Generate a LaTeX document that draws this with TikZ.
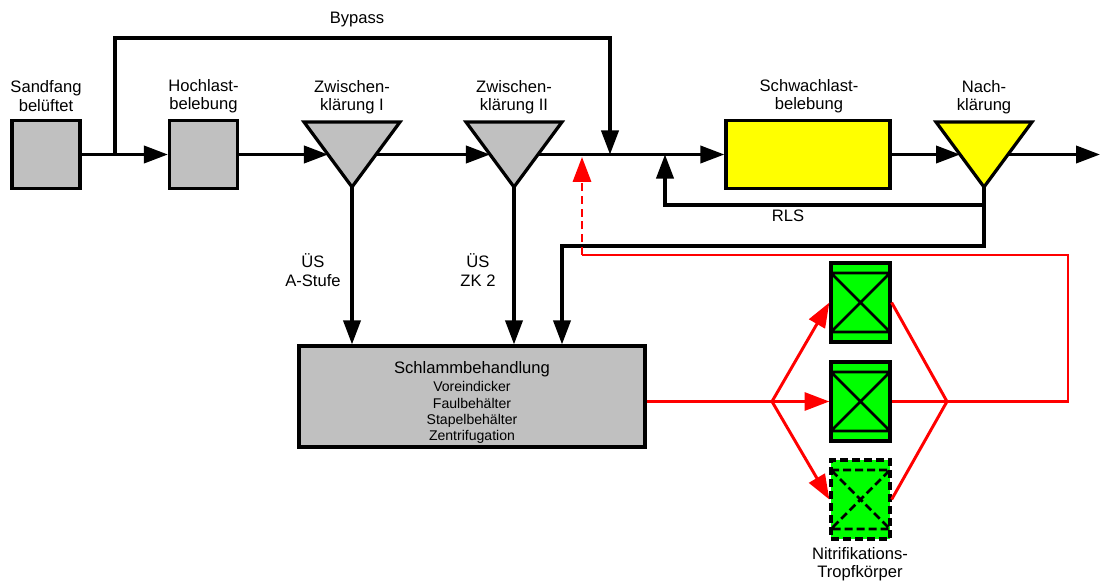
\documentclass[tikz,border=0pt]{standalone}
\usepackage{fontspec}
\setmainfont{Liberation Sans}
\usepackage{tikz}
\usetikzlibrary{arrows.meta, positioning, calc}
\definecolor{beckengrau}{RGB}{192,192,192}
\definecolor{belebgelb}{RGB}{255,255,0}
\definecolor{tkgruen}{RGB}{0,255,0}
\definecolor{nitrorot}{RGB}{255,0,0}
\tikzset{
  lbl/.style={font=\fontsize{11.8}{13}\selectfont,align=center,inner sep=0pt},
  procbox/.style={rectangle,draw,line width=2.3pt,fill=beckengrau,minimum width=1.7cm,minimum height=1.7cm,inner sep=0pt},
  pipe/.style={line width=2.3pt},
  flow/.style={line width=2.3pt,-{Triangle[length=0.6cm,width=0.43cm]}},
  recirc/.style={line width=2.1pt,nitrorot},
  recircarrow/.style={recirc,-{Triangle[length=0.62cm,width=0.45cm]}},
  tkinner/.style={line width=2pt},
  tkbox/.style={rectangle,draw,line width=2.3pt,fill=tkgruen,minimum width=1.475cm,minimum height=1.975cm,inner sep=0pt,
    path picture={
      \draw[tkinner] ([yshift=-0.25cm]path picture bounding box.north west) -- ([yshift=-0.25cm]path picture bounding box.north east)
        -- ([yshift=0.25cm]path picture bounding box.south west) -- ([yshift=0.25cm]path picture bounding box.south east) -- cycle;
    }},
  tkdashed/.style={tkbox,dash pattern=on 0.2cm off 0.1cm,tkinner/.append style={dash pattern=on 0.2cm off 0.1cm}},
  becken/.pic={
    \filldraw[line width=2.3pt,pic actions] (-48,-32.5) -- (48,-32.5) -- (0,32.5) -- cycle;
    \coordinate (-in) at (-24,0);
    \coordinate (-out) at (24,0);
    \coordinate (-tip) at (0,32.5);
  },
}

\begin{document}
\begin{tikzpicture}[x=0.025cm,y=-0.025cm]
  \useasboundingbox (0,0) rectangle (1101,585);
  % Becken der Wasserstrasse
  \node[procbox] (sand) at (46,154.5) {};
  \node[procbox] (hoch) at (203.5,154.5) {};
  \pic[fill=beckengrau] (zk1) at (352,154.5) {becken};
  \pic[fill=beckengrau] (zk2) at (514,154.5) {becken};
  \node[procbox,fill=belebgelb,minimum width=4.1cm] (schwach) at (808,154.5) {};
  \pic[fill=belebgelb] (nk) at (984,154.5) {becken};
  \node[procbox,minimum width=8.65cm,minimum height=2.525cm,align=center,font=\fontsize{10}{11.7}\selectfont] (schlamm) at (472,396.5)
    {{\fontsize{11.8}{13}\selectfont\rule{0pt}{17pt}Schlammbehandlung}\\[1.5pt]Voreindicker\\Faulbehälter\\Stapelbehälter\\Zentrifugation};
  \node[tkbox] (tk1) at (860.5,302.5) {};
  \node[tkbox] (tk2) at (860.5,401.5) {};
  \node[tkdashed] (tk3) at (860.5,499.5) {};
  % Beschriftungen
  \node[lbl] (sandlbl) at (46,96) {Sandfang\\belüftet};
  \node[lbl] (hochlbl) at (203.5,96) {Hochlast-\\belebung};
  \node[lbl] (zk1lbl) at (352,97) {Zwischen-\\klärung I};
  \node[lbl] (zk2lbl) at (514,97) {Zwischen-\\klärung II};
  \node[lbl] (schwachlbl) at (809,96) {Schwachlast-\\belebung};
  \node[lbl] (nklbl) at (984,97) {Nach-\\klärung};
  \node[lbl] (bypasslbl) at (357,20) {Bypass};
  \node[lbl] (rlslbl) at (788,216) {RLS};
  \node[lbl] (ues1lbl) at (313,270) {ÜS\\A-Stufe};
  \node[lbl] (ues2lbl) at (478,270) {ÜS\\ZK 2};
  \node[lbl] (tklbl) at (860,564) {Nitrifikations-\\Tropfkörper};
  % Hilfspunkte
  \coordinate (bysplit) at (115,154.5);
  \coordinate (bytop) at (610,38);
  \coordinate (byjoin) at (610,154.5);
  \coordinate (rlsin) at (665,154.5);
  \coordinate (ruecklauf) at (562,246);
  \coordinate (ablauf) at (1100,154.5);
  \coordinate (verteil) at (772,401.5);
  \coordinate (sammel) at (947,401.5);
  \coordinate (rtop) at (1068,255);
  \coordinate (rleft) at (582,255);
  \coordinate (rin) at (582,157);
  % Wasserstrasse
  \draw[flow] (sand) -- (hoch);
  \draw[flow] (bysplit) |- (bytop) -- (byjoin);
  \draw[flow] (hoch) -- (zk1-in);
  \draw[flow] (zk1-out) -- (zk2-in);
  \draw[flow] (zk2-out) -- (schwach);
  \draw[flow] (schwach) -- (nk-in);
  \draw[flow] (nk-out) -- (ablauf);
  % Ruecklaufschlamm und Ueberschussschlamm
  \draw[flow] (nk-tip) -- ++(0,18) -| (rlsin);
  \draw[flow] (nk-tip) |- (ruecklauf) -- (ruecklauf |- schlamm.north);
  \draw[flow] (zk1-tip) -- (zk1-tip |- schlamm.north);
  \draw[flow] (zk2-tip) -- (zk2-tip |- schlamm.north);
  % Nitrifikation
  \draw[recirc] (schlamm.east |- verteil) -- (verteil);
  \foreach \t in {tk1,tk2,tk3} {
    \draw[recircarrow] (verteil) -- (\t.west);
    \draw[recirc] (\t.east) -- (sammel);
  }
  \draw[recirc] (sammel) -| (rtop) -- (rleft);
  \draw[recircarrow,dash pattern=on 0.2cm off 0.12cm] (rleft) -- (rin);
\end{tikzpicture}
\end{document}
